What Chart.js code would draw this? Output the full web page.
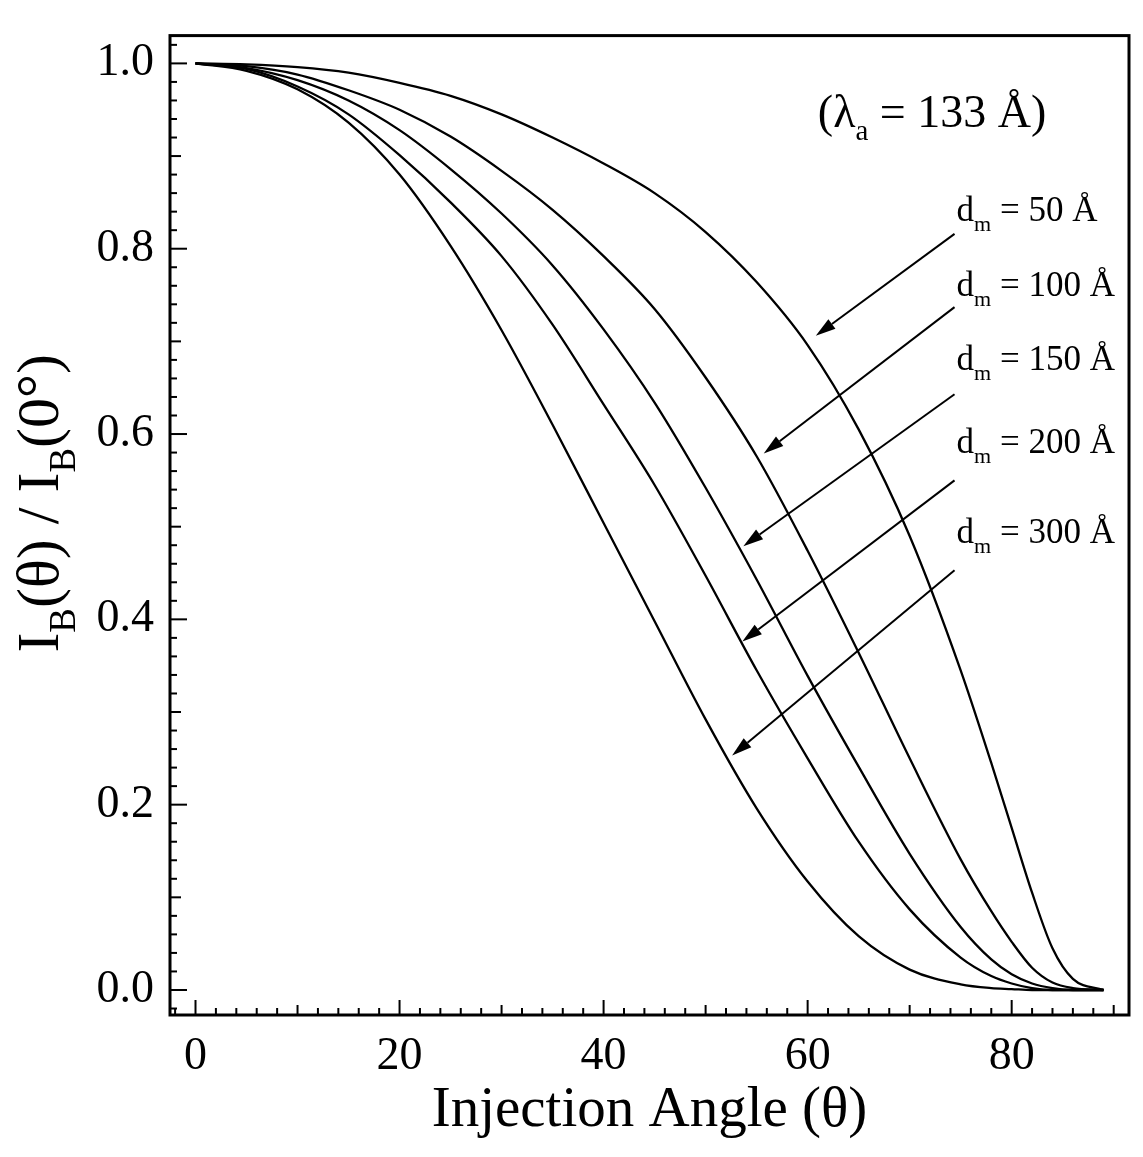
<!DOCTYPE html>
<html>
<head>
<meta charset="utf-8">
<script src="https://cdn.jsdelivr.net/npm/chart.js@4.4.1/dist/chart.umd.min.js"></script>
<style>
  html, body { margin: 0; padding: 0; background: #fff; }
  #wrap { width: 1143px; height: 1157px; position: relative; }
</style>
</head>
<body>
<div id="wrap"><canvas id="chart"></canvas></div>
<script>
'use strict';

/* ── data ─────────────────────────────────────────────────── */
const angles = [0, 5, 10, 15, 20, 25, 30, 35, 40, 45, 50, 55, 60, 65, 70, 75, 78, 80, 82, 84, 86, 89];

const dm50  = [1.000, 0.999, 0.996, 0.990, 0.979, 0.965, 0.945, 0.920, 0.892, 0.860, 0.818, 0.764, 0.696, 0.605, 0.490, 0.345, 0.245, 0.175, 0.105, 0.045, 0.012, 0.000];
const dm100 = [1.000, 0.997, 0.988, 0.971, 0.950, 0.921, 0.884, 0.842, 0.792, 0.735, 0.661, 0.576, 0.474, 0.364, 0.250, 0.141, 0.085, 0.052, 0.024, 0.008, 0.002, 0.000];
const dm150 = [1.000, 0.995, 0.982, 0.960, 0.928, 0.886, 0.838, 0.782, 0.713, 0.634, 0.542, 0.443, 0.339, 0.241, 0.147, 0.068, 0.033, 0.017, 0.007, 0.002, 0.000, 0.000];
const dm200 = [1.000, 0.994, 0.975, 0.945, 0.901, 0.850, 0.792, 0.718, 0.632, 0.545, 0.447, 0.345, 0.250, 0.160, 0.087, 0.035, 0.015, 0.007, 0.002, 0.000, 0.000, 0.000];
const dm300 = [1.000, 0.992, 0.972, 0.936, 0.880, 0.803, 0.712, 0.610, 0.504, 0.398, 0.292, 0.196, 0.117, 0.058, 0.022, 0.006, 0.002, 0.001, 0.000, 0.000, 0.000, 0.000];

const seriesNames  = ['50', '100', '150', '200', '300'];
const seriesValues = [dm50, dm100, dm150, dm200, dm300];

const xTicks = [0, 20, 40, 60, 80];
const yTicks = [0.0, 0.2, 0.4, 0.6, 0.8, 1.0];

/* ── annotation anchors, in data units ────────────────────── */
const labelX      = [74.6, 74.6, 74.6, 74.6, 74.6];
const labelY      = [0.830, 0.749, 0.669, 0.579, 0.482];
const arrowFromX  = [74.4, 74.4, 74.4, 74.4, 74.4];
const arrowFromY  = [0.816, 0.737, 0.643, 0.550, 0.453];
const arrowToX    = [60.8, 55.7, 53.7, 53.6, 52.6];
const arrowToY    = [0.706, 0.579, 0.479, 0.376, 0.253];
const lambdaAt    = [61.0, 0.931];

/* ── look ─────────────────────────────────────────────────── */
const SERIF = '"Liberation Serif", "DejaVu Serif", serif';
const INK   = '#000';

// draws text made of [string, isSubscript] pieces, left aligned on baseline
function drawRich(ctx, parts, x, y, size) {
  let cx = x;
  ctx.textBaseline = 'alphabetic';
  ctx.textAlign = 'left';
  parts.forEach(([t, sub]) => {
    const fs = sub ? Math.round(size * 0.62) : size;
    ctx.font = `${fs}px ${SERIF}`;
    ctx.fillText(t, cx, y + (sub ? size * 0.28 : 0));
    cx += ctx.measureText(t).width;
  });
  return cx - x;
}
function richWidth(ctx, parts, size) {
  let w = 0;
  parts.forEach(([t, sub]) => {
    ctx.font = `${sub ? Math.round(size * 0.62) : size}px ${SERIF}`;
    w += ctx.measureText(t).width;
  });
  return w;
}

function arrow(ctx, x1, y1, x2, y2) {
  const ang = Math.atan2(y2 - y1, x2 - x1);
  const hl = 20, hw = 6;
  const bx = x2 - hl * Math.cos(ang), by = y2 - hl * Math.sin(ang);
  ctx.beginPath();
  ctx.moveTo(x1, y1);
  ctx.lineTo(bx, by);
  ctx.stroke();
  ctx.beginPath();
  ctx.moveTo(x2, y2);
  ctx.lineTo(bx + hw * Math.sin(ang), by - hw * Math.cos(ang));
  ctx.lineTo(bx - hw * Math.sin(ang), by + hw * Math.cos(ang));
  ctx.closePath();
  ctx.fill();
}

/* ── frame, inward ticks, labels, arrows ──────────────────── */
const decor = {
  id: 'decor',
  beforeDraw(chart) {
    const { ctx, width, height } = chart;
    ctx.save();
    ctx.fillStyle = '#fff';
    ctx.fillRect(0, 0, width, height);
    ctx.restore();
  },
  afterDatasetsDraw(chart) {
    const { ctx, chartArea: a, scales: { x, y } } = chart;
    ctx.save();
    ctx.strokeStyle = INK;
    ctx.fillStyle = INK;

    ctx.lineWidth = 3;
    ctx.strokeRect(a.left, a.top, a.right - a.left, a.bottom - a.top);

    // x ticks every 2 degrees
    ctx.lineWidth = 2;
    for (let k = -1; k <= 45; k++) {
      const v = k * 2;
      const px = x.getPixelForValue(v);
      if (px <= a.left + 2 || px >= a.right - 2) continue;
      const len = v % 20 === 0 ? 15 : v % 10 === 0 ? 10 : 7;
      ctx.beginPath();
      ctx.moveTo(px, a.bottom);
      ctx.lineTo(px, a.bottom - len);
      ctx.stroke();
    }
    // y ticks every 0.02
    for (let k = -1; k <= 51; k++) {
      const py = y.getPixelForValue(k * 0.02);
      if (py >= a.bottom - 2 || py <= a.top + 2) continue;
      const len = k % 10 === 0 ? 17 : k % 5 === 0 ? 11 : 7;
      ctx.beginPath();
      ctx.moveTo(a.left, py);
      ctx.lineTo(a.left + len, py);
      ctx.stroke();
    }

    // arrows
    ctx.lineWidth = 2;
    arrowFromX.forEach((_, i) => {
      arrow(ctx,
        x.getPixelForValue(arrowFromX[i]), y.getPixelForValue(arrowFromY[i]),
        x.getPixelForValue(arrowToX[i]),   y.getPixelForValue(arrowToY[i]));
    });

    // d_m labels
    seriesNames.forEach((n, i) => {
      drawRich(ctx, [['d', false], ['m', true], [` = ${n} Å`, false]],
        x.getPixelForValue(labelX[i]), y.getPixelForValue(labelY[i]), 35);
    });

    // wavelength note
    drawRich(ctx, [['(λ', false], ['a', true], [' = 133 Å)', false]],
      x.getPixelForValue(lambdaAt[0]), y.getPixelForValue(lambdaAt[1]), 46);

    // y-axis title with subscripts, rotated
    const yt = [['I', false], ['B', true], ['(θ) / I', false], ['B', true], ['(0°)', false]];
    const ysz = 60;
    const w = richWidth(ctx, yt, ysz);
    ctx.translate(58, (a.top + a.bottom) / 2 - 22);
    ctx.rotate(-Math.PI / 2);
    drawRich(ctx, yt, -w / 2, 0, ysz);

    ctx.restore();
  }
};

/* ── chart ────────────────────────────────────────────────── */
new Chart(document.getElementById('chart'), {
  type: 'line',
  data: {
    datasets: seriesValues.map((vals, i) => ({
      label: `d_m = ${seriesNames[i]} Å`,
      data: angles.map((a, j) => ({ x: a, y: vals[j] })),
      borderColor: INK,
      borderWidth: 2.3,
      pointRadius: 0,
      fill: false,
      cubicInterpolationMode: 'monotone'
    }))
  },
  options: {
    responsive: true,
    maintainAspectRatio: false,
    animation: false,
    layout: { padding: { top: 34, right: 14, left: 0, bottom: 0 } },
    plugins: { legend: { display: false }, tooltip: { enabled: false } },
    scales: {
      x: {
        type: 'linear',
        min: -2.5, max: 91.5,
        grid: { display: false },
        border: { display: false },
        afterBuildTicks: s => { s.ticks = xTicks.map(v => ({ value: v })); },
        afterFit: s => { s.height = 142; },
        ticks: {
          color: INK, padding: 6, maxRotation: 0, autoSkip: false,
          font: { family: SERIF, size: 46 },
          callback: v => String(v)
        },
        title: {
          display: true,
          text: 'Injection Angle (θ)',
          color: INK,
          font: { family: SERIF, size: 57 },
          padding: { top: 0, bottom: 12 }
        }
      },
      y: {
        min: -0.027, max: 1.03,
        grid: { display: false },
        border: { display: false },
        afterBuildTicks: s => { s.ticks = yTicks.map(v => ({ value: v })); },
        afterFit: s => { s.width = 170; },
        ticks: {
          color: INK, padding: 8, autoSkip: false,
          font: { family: SERIF, size: 46 },
          callback: v => v.toFixed(1)
        }
      }
    }
  },
  plugins: [decor]
});
</script>
</body>
</html>
